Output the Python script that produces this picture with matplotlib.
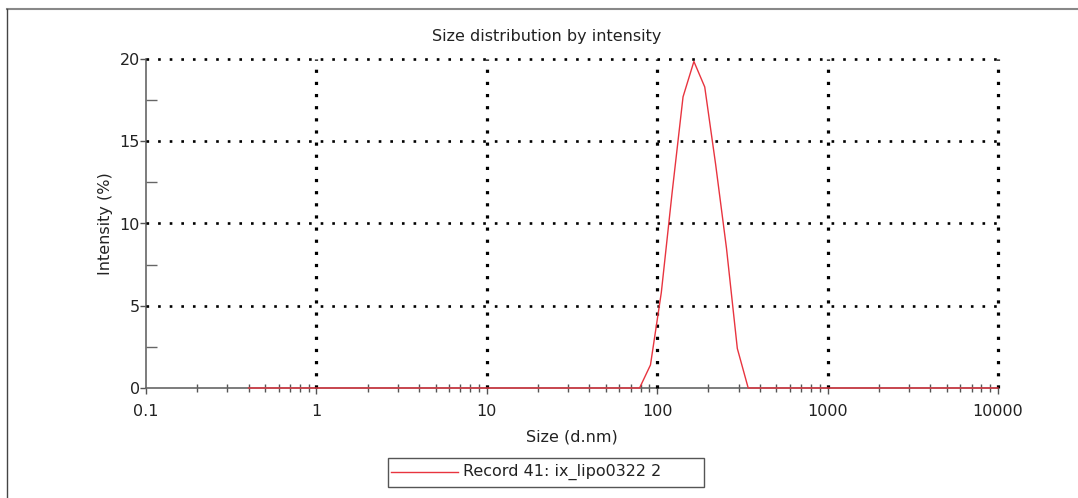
import matplotlib.pyplot as plt
from matplotlib.lines import Line2D
from matplotlib.patches import Rectangle
from matplotlib.ticker import FixedLocator, FixedFormatter, NullFormatter

plt.rcParams['font.family'] = ['DejaVu Sans']

# size bins (d.nm) and intensity (%)
sizes = [0.4, 78.8, 91.3, 105.7, 122.4, 141.8, 164.2, 190.1, 220.2, 255.0, 295.3, 342.0, 10000]
intensity = [0, 0, 1.4, 5.8, 11.9, 17.7, 19.85, 18.3, 13.6, 8.5, 2.4, 0, 0]
x_ticks = [0.1, 1, 10, 100, 1000, 10000]
x_labels = ['0.1', '1', '10', '100', '1000', '10000']
y_ticks = [0, 5, 10, 15, 20]
y_minor = [2.5, 7.5, 12.5, 17.5]
x_minor = [m * d for d in [0.1, 1, 10, 100, 1000] for m in range(2, 10)]
label = 'Record 41: ix_lipo0322 2'

fs = 11.5
txt = '#222222'
red = '#e8343f'
W, H = 1078, 498

fig = plt.figure(figsize=(W / 100, H / 100), dpi=100)
ax = fig.add_axes([146 / W, 1 - 388 / H, 852 / W, 329 / H])

ax.plot(sizes, intensity, color=red, lw=1.0, clip_on=False, zorder=5)

ax.set_xscale('log')
ax.set_xlim(0.1, 10000)
ax.set_ylim(0, 20)

ax.xaxis.set_major_locator(FixedLocator(x_ticks))
ax.xaxis.set_major_formatter(FixedFormatter(x_labels))
ax.xaxis.set_minor_locator(FixedLocator(x_minor))
ax.xaxis.set_minor_formatter(NullFormatter())
ax.yaxis.set_major_locator(FixedLocator(y_ticks))
ax.yaxis.set_minor_locator(FixedLocator(y_minor))

ax.tick_params(axis='both', which='major', direction='out', length=4, width=1,
               color='#555555', labelsize=fs, labelcolor=txt)
ax.tick_params(axis='x', which='major', pad=7.5)
ax.tick_params(axis='y', which='major', pad=0.5)
ax.tick_params(axis='y', which='minor', direction='in', length=8, width=1, color='#666666')
ax.tick_params(axis='x', which='minor', direction='inout', length=6, width=1, color='#555555')

for s in ['top', 'right']:
    ax.spines[s].set_visible(False)
for s in ['left', 'bottom']:
    ax.spines[s].set_color('#666666')
    ax.spines[s].set_linewidth(1.2)

# dotted grid, skipping the lines that sit on the axes
for y in y_ticks[1:]:
    ax.axhline(y, color='black', linestyle=(0, (1, 3.4)), linewidth=1.9, zorder=3, clip_on=False)
for x in x_ticks[1:]:
    ax.axvline(x, color='black', linestyle=(0, (1, 2.8)), linewidth=2.3, zorder=3, clip_on=False)

ax.set_xlabel('Size (d.nm)', fontsize=fs, color=txt)
ax.set_ylabel('Intensity (%)', fontsize=fs, color=txt)
ax.xaxis.set_label_coords(0.5, (388 - 429) / 329)
ax.yaxis.set_label_coords((113 - 146) / 852, 0.5)
fig.text(547 / W, 1 - 37 / H, 'Size distribution by intensity', ha='center', va='center',
         fontsize=fs, color=txt)

# legend box
fig.add_artist(Rectangle((388 / W, 1 - 487 / H), 316 / W, 29 / H, transform=fig.transFigure,
                         facecolor='white', edgecolor='#555555', lw=1.0))
fig.add_artist(Line2D([391 / W, 458 / W], [1 - 472 / H] * 2, color=red, lw=1.0))
fig.text(463 / W, 1 - 472 / H, label, ha='left', va='center', fontsize=fs, color=txt)

# outer frame (top and left edges)
fig.add_artist(Line2D([7 / W, 1], [1 - 9.5 / H, 1 - 9.5 / H], color='#888888', lw=1.5))
fig.add_artist(Line2D([7 / W, 7 / W], [0, 1 - 9.5 / H], color='#444444', lw=1.0))

fig.savefig('out.png', dpi=100)
